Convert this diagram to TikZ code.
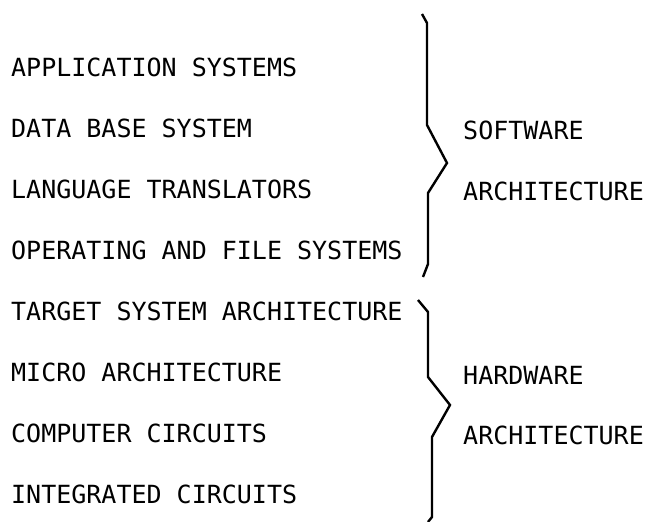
\documentclass[tikz,border=0pt]{standalone}
\usepackage{fontspec}
\newfontfamily\typefont{DejaVu Sans Mono}
\begin{document}
\begin{tikzpicture}[x=1pt,y=-1pt,
  layer/.style={anchor=base west,inner sep=0pt,font=\typefont\fontsize{25}{30}\selectfont},
  group/.style={layer},
  bracket/.style={line width=2.4pt,line join=miter,line cap=butt}]
\useasboundingbox (0,0) rectangle (649,522);
% layers, bottom of each text line at centre + 9
\node[layer] (app) at (11,76)  {APPLICATION SYSTEMS};
\node[layer] (dbs) at (11,137) {DATA BASE SYSTEM};
\node[layer] (lng) at (11,198) {LANGUAGE TRANSLATORS};
\node[layer] (ops) at (11,259) {OPERATING AND FILE SYSTEMS};
\node[layer] (tsa) at (11,320) {TARGET SYSTEM ARCHITECTURE};
\node[layer] (mic) at (11,381) {MICRO ARCHITECTURE};
\node[layer] (cc)  at (11,442) {COMPUTER CIRCUITS};
\node[layer] (ic)  at (11,503) {INTEGRATED CIRCUITS};
% group labels
\node[group] (sw1) at (463,139) {SOFTWARE};
\node[group] (sw2) at (463,200) {ARCHITECTURE};
\node[group] (hw1) at (463,384) {HARDWARE};
\node[group] (hw2) at (463,444) {ARCHITECTURE};
% braces
\coordinate (swtip) at (447,163);
\coordinate (hwtip) at (450,405);
\draw[bracket] (422,14) -- (427,23) -- (427,125) -- (swtip) -- (428,193) -- (428,264) -- (423,277);
\draw[bracket] (418,300) -- (428,312) -- (428,377) -- (hwtip) -- (432,437) -- (432,517) -- (428,522);
\end{tikzpicture}
\end{document}
